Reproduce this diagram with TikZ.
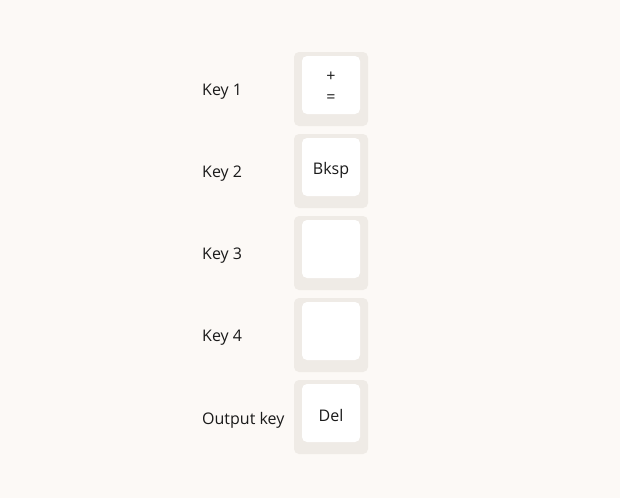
\documentclass[tikz,border=0pt]{standalone}
\usepackage{fontspec}
\setmainfont{Open Sans}
\definecolor{bg}{HTML}{FCF9F6}
\definecolor{capgray}{HTML}{EFEBE6}
\definecolor{txt}{HTML}{1A1A1A}
\begin{document}
\begin{tikzpicture}[x=1pt,y=-1pt,
  capouter/.style={fill=capgray,draw=none,rounded corners=5pt},
  capinner/.style={fill=white,draw=none,rounded corners=5pt},
  lbl/.style={anchor=west,inner sep=0pt,text=txt,font=\fontsize{16}{18}\selectfont},
  captext/.style={inner sep=0pt,text=txt,font=\fontsize{16}{18}\selectfont,align=center}]
\fill[bg] (0,0) rectangle (620,498);
\useasboundingbox (0,0) rectangle (620,498);
\foreach \i/\t in {0/Key 1,1/Key 2,2/Key 3,3/Key 4,4/Output key}{
  \pgfmathsetmacro{\yy}{52+82*\i}
  \fill[capouter] (294,\yy) rectangle (368,\yy+74);
  \fill[capinner] (302,\yy+4) rectangle (360,\yy+62);
  \node[lbl] (l\i) at (202,\yy+40) {\t};
}
\node[captext] (p) at (331,77) {+};
\node[captext] (e) at (331,99) {=};
\node[captext] (b) at (331,170) {Bksp};
\node[captext] (d) at (331,415) {Del};
\end{tikzpicture}
\end{document}
